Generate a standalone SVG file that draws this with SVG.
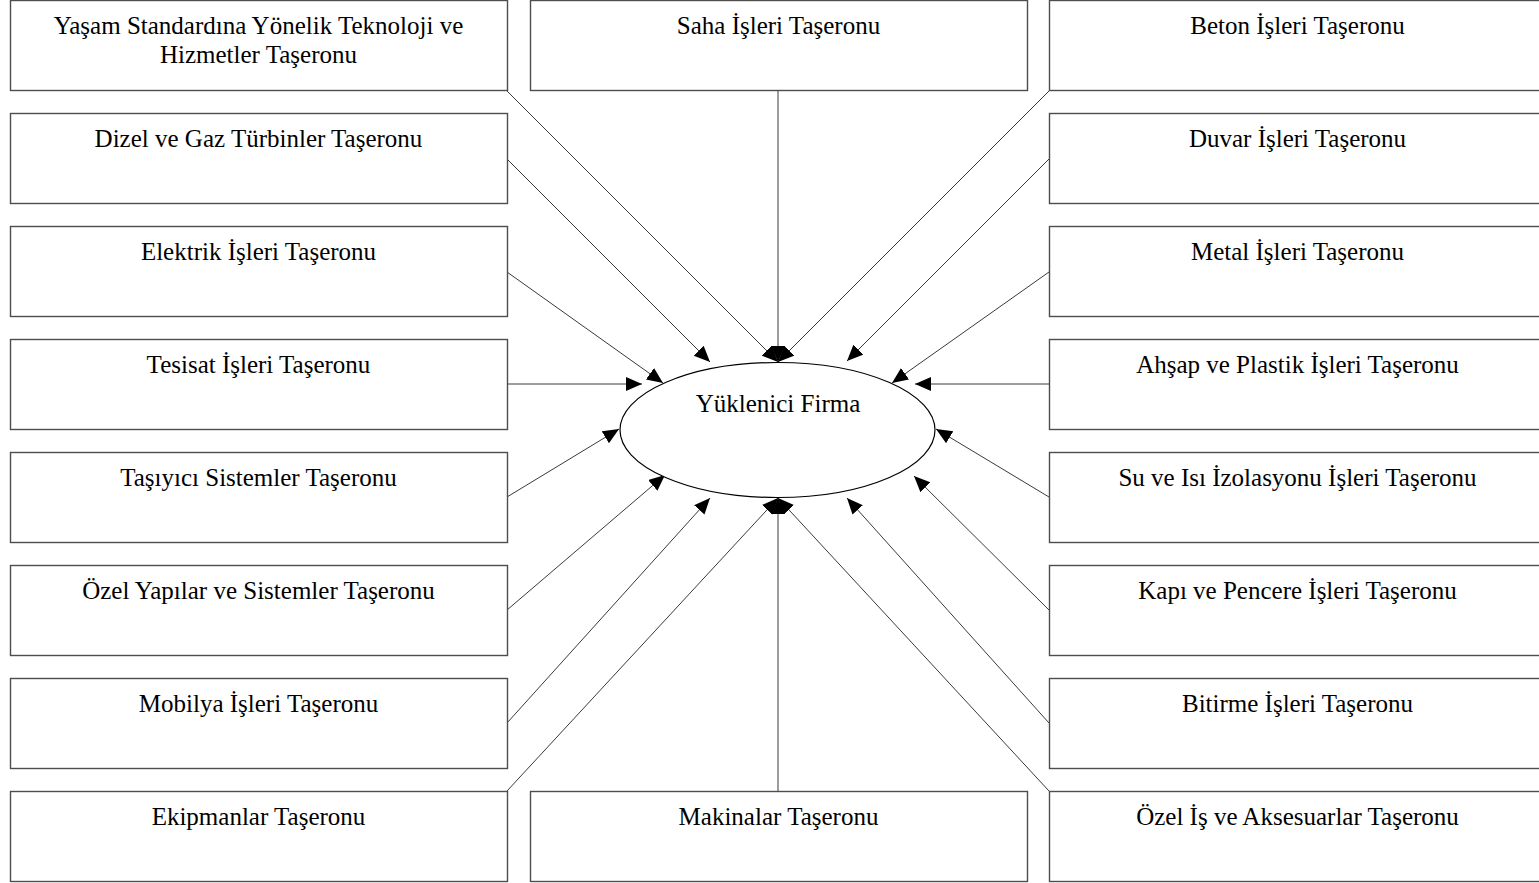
<svg xmlns="http://www.w3.org/2000/svg" width="1539" height="883" viewBox="0 0 1539 883">
  <style>
    .box { fill: #ffffff; stroke: #4d4d4d; stroke-width: 1.4; }
    .lbl { font-family: "Liberation Serif", "Times New Roman", serif; font-size: 25px; fill: #000000; text-anchor: middle; }
    .conn { stroke: #3a3a3a; stroke-width: 1; fill: none; marker-end: url(#arrow); }
    .hub { fill: #ffffff; stroke: #000000; stroke-width: 1.2; }
  </style>
  <defs>
    <marker id="arrow" markerUnits="userSpaceOnUse" markerWidth="17" markerHeight="15" refX="16" refY="7" orient="auto">
      <path d="M0,0 L16,7 L0,14 z" fill="#000000"/>
    </marker>
  </defs>
  <rect width="1539" height="883" fill="#ffffff"/>

  <!-- connectors: every subcontractor points at the contractor -->
  <g id="connectors">
    <line class="conn" x1="507" y1="91" x2="778" y2="362"/>
    <line class="conn" x1="778" y1="91" x2="778" y2="362"/>
    <line class="conn" x1="1049" y1="91" x2="778" y2="362"/>
    <line class="conn" x1="507" y1="159" x2="710" y2="362"/>
    <line class="conn" x1="1049" y1="159" x2="847" y2="361"/>
    <line class="conn" x1="507" y1="272" x2="663" y2="383"/>
    <line class="conn" x1="1049" y1="272" x2="892" y2="383"/>
    <line class="conn" x1="507" y1="384" x2="642" y2="384"/>
    <line class="conn" x1="1049" y1="384" x2="915" y2="384"/>
    <line class="conn" x1="507" y1="497" x2="619" y2="429"/>
    <line class="conn" x1="1049" y1="497" x2="936" y2="429"/>
    <line class="conn" x1="507" y1="610" x2="665" y2="475"/>
    <line class="conn" x1="1049" y1="610" x2="914" y2="476"/>
    <line class="conn" x1="507" y1="723" x2="710" y2="498"/>
    <line class="conn" x1="1049" y1="723" x2="847" y2="498"/>
    <line class="conn" x1="507" y1="791" x2="778" y2="498"/>
    <line class="conn" x1="778" y1="791" x2="778" y2="498"/>
    <line class="conn" x1="1049" y1="791" x2="778" y2="498"/>
  </g>

  <g id="yuklenici">
    <ellipse class="hub" cx="777.5" cy="430" rx="157.5" ry="67.5"/>
    <text class="lbl" x="778" y="412">Yüklenici Firma</text>
  </g>

  <!-- left column -->
  <g id="yasam">
    <rect class="box" x="10.5" y="0.5" width="497" height="90"/>
    <text class="lbl" x="258.5" y="34">Yaşam Standardına Yönelik Teknoloji ve</text>
    <text class="lbl" x="258.5" y="63">Hizmetler Taşeronu</text>
  </g>
  <g id="dizel">
    <rect class="box" x="10.5" y="113.5" width="497" height="90"/>
    <text class="lbl" x="258.5" y="147">Dizel ve Gaz Türbinler Taşeronu</text>
  </g>
  <g id="elektrik">
    <rect class="box" x="10.5" y="226.5" width="497" height="90"/>
    <text class="lbl" x="258.5" y="260">Elektrik İşleri Taşeronu</text>
  </g>
  <g id="tesisat">
    <rect class="box" x="10.5" y="339.5" width="497" height="90"/>
    <text class="lbl" x="258.5" y="373">Tesisat İşleri Taşeronu</text>
  </g>
  <g id="tasiyici">
    <rect class="box" x="10.5" y="452.5" width="497" height="90"/>
    <text class="lbl" x="258.5" y="486">Taşıyıcı Sistemler Taşeronu</text>
  </g>
  <g id="ozel-yapilar">
    <rect class="box" x="10.5" y="565.5" width="497" height="90"/>
    <text class="lbl" x="258.5" y="599">Özel Yapılar ve Sistemler Taşeronu</text>
  </g>
  <g id="mobilya">
    <rect class="box" x="10.5" y="678.5" width="497" height="90"/>
    <text class="lbl" x="258.5" y="712">Mobilya İşleri Taşeronu</text>
  </g>
  <g id="ekipmanlar">
    <rect class="box" x="10.5" y="791.5" width="497" height="90"/>
    <text class="lbl" x="258.5" y="825">Ekipmanlar Taşeronu</text>
  </g>

  <!-- middle column -->
  <g id="saha">
    <rect class="box" x="530.5" y="0.5" width="497" height="90"/>
    <text class="lbl" x="778.5" y="34">Saha İşleri Taşeronu</text>
  </g>
  <g id="makinalar">
    <rect class="box" x="530.5" y="791.5" width="497" height="90"/>
    <text class="lbl" x="778.5" y="825">Makinalar Taşeronu</text>
  </g>

  <!-- right column -->
  <g id="beton">
    <rect class="box" x="1049.5" y="0.5" width="497" height="90"/>
    <text class="lbl" x="1297.5" y="34">Beton İşleri Taşeronu</text>
  </g>
  <g id="duvar">
    <rect class="box" x="1049.5" y="113.5" width="497" height="90"/>
    <text class="lbl" x="1297.5" y="147">Duvar İşleri Taşeronu</text>
  </g>
  <g id="metal">
    <rect class="box" x="1049.5" y="226.5" width="497" height="90"/>
    <text class="lbl" x="1297.5" y="260">Metal İşleri Taşeronu</text>
  </g>
  <g id="ahsap">
    <rect class="box" x="1049.5" y="339.5" width="497" height="90"/>
    <text class="lbl" x="1297.5" y="373">Ahşap ve Plastik İşleri Taşeronu</text>
  </g>
  <g id="izolasyon">
    <rect class="box" x="1049.5" y="452.5" width="497" height="90"/>
    <text class="lbl" x="1297.5" y="486">Su ve Isı İzolasyonu İşleri Taşeronu</text>
  </g>
  <g id="kapi">
    <rect class="box" x="1049.5" y="565.5" width="497" height="90"/>
    <text class="lbl" x="1297.5" y="599">Kapı ve Pencere İşleri Taşeronu</text>
  </g>
  <g id="bitirme">
    <rect class="box" x="1049.5" y="678.5" width="497" height="90"/>
    <text class="lbl" x="1297.5" y="712">Bitirme İşleri Taşeronu</text>
  </g>
  <g id="ozel-is">
    <rect class="box" x="1049.5" y="791.5" width="497" height="90"/>
    <text class="lbl" x="1297.5" y="825">Özel İş ve Aksesuarlar Taşeronu</text>
  </g>
</svg>
